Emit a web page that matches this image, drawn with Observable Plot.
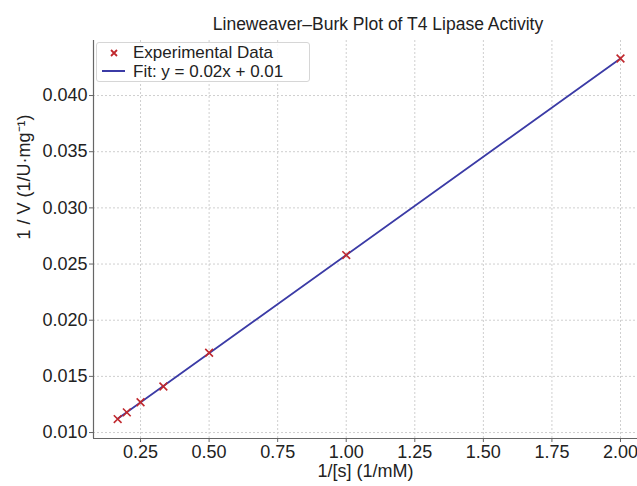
<!DOCTYPE html>
<html><head><meta charset="utf-8">
<script src="https://cdn.jsdelivr.net/npm/d3@7"></script>
<script src="https://cdn.jsdelivr.net/npm/@observablehq/plot@0.6"></script>
<style>
body{margin:0;background:#fff;font-family:"Liberation Sans",Arial,sans-serif;}
#wrap{position:relative;width:637px;height:486px;}
#title{position:absolute;left:128px;width:500px;top:14px;text-align:center;font-size:17.5px;line-height:20px;color:#222;}
#legend{position:absolute;left:96px;top:42px;width:212px;height:38px;border:1px solid #d6d6d6;border-radius:3px;background:rgba(255,255,255,0.85);font-size:17px;color:#222;}
.row{position:absolute;left:0;height:18px;line-height:18px;}
.row span{position:absolute;left:36px;white-space:nowrap;}
</style></head>
<body><div id="wrap"><div id="title">Lineweaver–Burk Plot of T4 Lipase Activity</div></div>
<script>
const invS = [1/6, 0.2, 0.25, 1/3, 0.5, 1.0, 2.0];
const invV = [0.0112, 0.0118, 0.0127, 0.0141, 0.0171, 0.0258, 0.0433];
const xTicks = [0.25, 0.5, 0.75, 1.0, 1.25, 1.5, 1.75, 2.0];
const yTicks = [0.010, 0.015, 0.020, 0.025, 0.030, 0.035, 0.040];
const fitLabel = "Fit: y = 0.02x + 0.01";
const dataLabel = "Experimental Data";
const red = "#c0282d", blue = "#3b3ba6";

const data = invS.map((x, i) => ({x, y: invV[i]}));
const xDom = [0.0785, 2.062], yDom = [0.00947, 0.0449];

const plot = Plot.plot({
  width: 637, height: 486,
  marginTop: 40, marginBottom: 48, marginLeft: 93, marginRight: 0,
  style: {fontFamily: '"Liberation Sans", Arial, sans-serif', fontSize: "18px", color: "#222", background: "transparent"},
  x: {domain: xDom},
  y: {domain: yDom},
  marks: [
    Plot.gridX(xTicks, {stroke: "#cfcfcf", strokeOpacity: 1, strokeDasharray: "2,2"}),
    Plot.gridY(yTicks, {stroke: "#cfcfcf", strokeOpacity: 1, strokeDasharray: "2,2"}),
    Plot.ruleX([xDom[0]], {stroke: "#666", strokeWidth: 1.2}),
    Plot.ruleY([yDom[0]], {stroke: "#666", strokeWidth: 1.2}),
    Plot.axisX(xTicks, {tickFormat: d => d.toFixed(2), tickSize: 4, tickPadding: 3, stroke: "#666", fontSize: 18, label: null}),
    Plot.axisY(yTicks, {tickFormat: d => d.toFixed(3), tickSize: 4, tickPadding: 2, stroke: "#666", fontSize: 18, label: null}),
    Plot.text(["1/[s] (1/mM)"], {frameAnchor: "bottom", dy: 38, fontSize: 18}),
    Plot.text(["1 / V (1/U·mg⁻¹)"], {frameAnchor: "left", dx: -69, rotate: -90, fontSize: 18}),
    Plot.linearRegressionY(data, {x: "x", y: "y", ci: 0, stroke: blue, strokeWidth: 1.8}),
    Plot.dot(data, {x: "x", y: "y", symbol: "times", r: 3.6, stroke: red, strokeWidth: 1.6})
  ]
});
const wrap = document.getElementById("wrap");
wrap.insertBefore(plot, wrap.firstChild);

const leg = document.createElement("div");
leg.id = "legend";
leg.innerHTML = `
<div class="row" style="top:1px;width:100%"><svg width="30" height="18" style="position:absolute;left:6px"><path d="M8,6 L14,12 M14,6 L8,12" stroke="${red}" stroke-width="1.8"/></svg><span>${dataLabel}</span></div>
<div class="row" style="top:20px;width:100%"><svg width="30" height="18" style="position:absolute;left:4px"><line x1="1" x2="24" y1="8" y2="8" stroke="${blue}" stroke-width="2"/></svg><span>${fitLabel}</span></div>`;
wrap.appendChild(leg);
</script>
</body></html>
